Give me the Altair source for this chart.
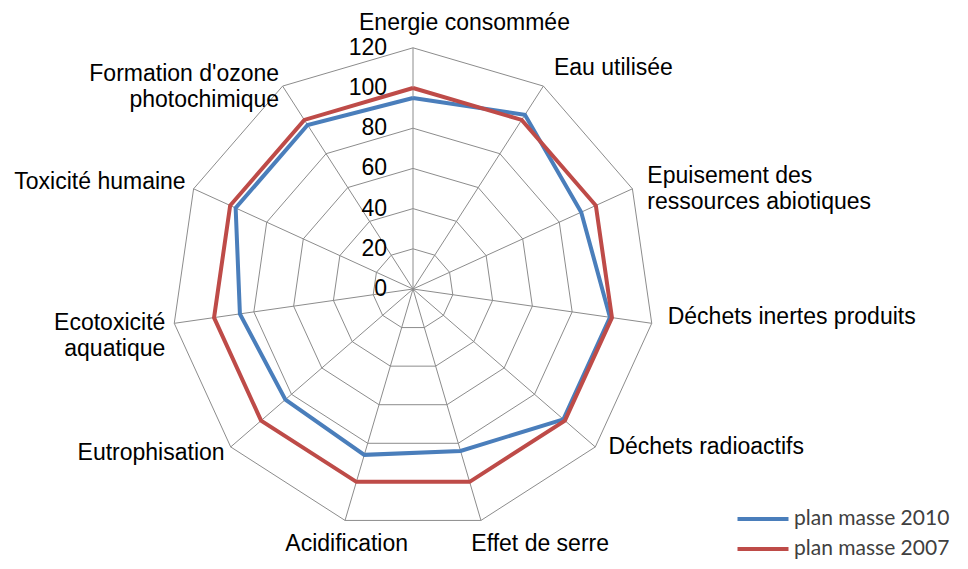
import altair as alt
import pandas as pd

# ---------------- data ----------------
categories = [
    "Energie consommée",
    "Eau utilisée",
    "Epuisement des\nressources abiotiques",
    "Déchets inertes produits",
    "Déchets radioactifs",
    "Effet de serre",
    "Acidification",
    "Eutrophisation",
    "Ecotoxicité\naquatique",
    "Toxicité humaine",
    "Formation d'ozone\nphotochimique",
]
plan_2010 = [95, 103, 92, 99, 99, 84, 86, 84, 87, 97, 97]
plan_2007 = [100, 100, 100, 100, 100, 100, 100, 100, 100, 100, 100]
ticks = [0, 20, 40, 60, 80, 100, 120]
series_names = ["plan masse 2010", "plan masse 2007"]
series_colors = ["#4A7EBB", "#BE4B48"]

# ---------------- tables ----------------
n = len(categories)
rmax = ticks[-1]
series_df = pd.DataFrame(
    [{"serie": s, "idx": i, "value": vals[i % n]}
     for s, vals in zip(series_names, [plan_2010, plan_2007]) for i in range(n + 1)]
)
ring_df = pd.DataFrame([{"ring": t, "idx": i} for t in ticks[1:] for i in range(n + 1)])
spoke_df = pd.DataFrame([{"idx": i, "r": r} for i in range(n) for r in (0, rmax)])
label_df = pd.DataFrame({"label": categories, "idx": list(range(n))})
tick_df = pd.DataFrame({"t": ticks})

# ---------------- layout ----------------
W, H = 952, 553
PX = 2.01          # pixels per unit
CX, CY = 405, 281  # radar centre inside the chart
GRID = "#8C8C8C"
FONT = "Liberation Sans"
FS = 23

xscale = alt.Scale(domain=[-CX / PX, (W - CX) / PX], nice=False, zero=False)
yscale = alt.Scale(domain=[-(H - CY) / PX, CY / PX], nice=False, zero=False)
ANG = f"2*PI*datum.idx/{n}"


def polar(ch, rexpr):
    return ch.transform_calculate(a=ANG).transform_calculate(
        px=f"({rexpr})*sin(datum.a)", py=f"({rexpr})*cos(datum.a)"
    )


X = alt.X("px:Q", scale=xscale, axis=None)
Y = alt.Y("py:Q", scale=yscale, axis=None)

rings = polar(alt.Chart(ring_df), "datum.ring").mark_line(
    color=GRID, strokeWidth=1
).encode(x=X, y=Y, detail="ring:N", order="idx:Q")

spokes = polar(alt.Chart(spoke_df), "datum.r").mark_line(
    color=GRID, strokeWidth=1
).encode(x=X, y=Y, detail="idx:N", order="r:Q")

legend = alt.Legend(
    title=None, orient="none", legendX=738, legendY=494,
    symbolType="M-1.7,0H1.7", symbolSize=900, symbolStrokeWidth=4,
    labelFont="Lato", labelFontSize=21, labelColor="#404040", labelLimit=0,
    labelOffset=14, rowPadding=3, padding=0, direction="vertical",
)
color = alt.Color(
    "serie:N", scale=alt.Scale(domain=series_names, range=series_colors), legend=legend
)

series_layers = [
    polar(alt.Chart(series_df), "datum.value")
    .transform_filter(f"datum.serie == '{s}'")
    .mark_line(strokeWidth=4)
    .encode(x=X, y=Y, color=color, order="idx:Q")
    for s in series_names
]

LR = 126
label_base = alt.Chart(label_df).transform_calculate(a=ANG).transform_calculate(
    s="sin(datum.a)", c="cos(datum.a)"
).transform_calculate(px=f"{LR}*datum.s", py=f"{LR}*datum.c")

groups = [
    ("datum.c > 0.95", "left", -54, -13),
    ("datum.s > 0.1 && datum.c >= -0.9", "left", 4, -8),
    ("datum.s > 0.1 && datum.c < -0.9", "left", -13, 12),
    ("datum.s < -0.1 && datum.c < -0.9", "center", 5, 12),
    ("datum.s < -0.1 && datum.c >= -0.9", "right", 3, -2),
]
label_layers = [
    label_base.transform_filter(cond).mark_text(
        align=al, baseline="middle", dx=dx, dy=dy, font=FONT, fontSize=FS,
        color="#000000", lineBreak="\n", lineHeight=26,
    ).encode(x=X, y=Y, text="label:N")
    for cond, al, dx, dy in groups
]

tick_labels = alt.Chart(tick_df).transform_calculate(px="0", py="datum.t").mark_text(
    align="right", baseline="middle", dx=-26, font=FONT, fontSize=FS, color="#000000"
).encode(x=X, y=Y, text="t:Q")

chart = alt.layer(
    rings, spokes, *series_layers, tick_labels, *label_layers
).properties(
    width=W, height=H, autosize="none", padding=0
).configure_view(stroke=None)

chart.save("out.html", embed_options={"renderer": "svg", "actions": False})
